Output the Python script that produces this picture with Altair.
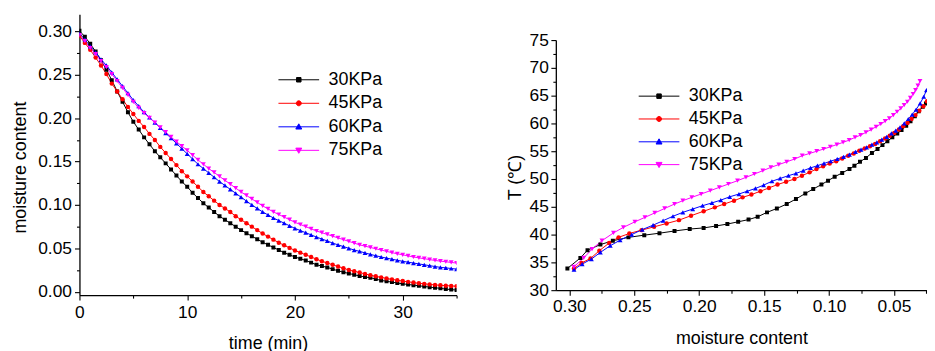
import altair as alt
import pandas as pd

series = ["30KPa", "45KPa", "60KPa", "75KPa"]
colors = ["#000000", "#FF0000", "#0000FF", "#FF00FF"]

# ---------- left panel: moisture content vs time ----------
time_min = [0, 0.5, 1, 1.5, 2, 2.5, 3, 3.5, 4, 4.5, 5, 5.5, 6, 6.5, 7, 7.5, 8, 8.5, 9, 9.5,
            10, 10.5, 11, 11.5, 12, 12.5, 13, 13.5, 14, 14.5, 15, 15.5, 16, 16.5, 17, 17.5,
            18, 18.5, 19, 19.5, 20, 20.5, 21, 21.5, 22, 22.5, 23, 23.5, 24, 24.5, 25, 25.5,
            26, 26.5, 27, 27.5, 28, 28.5, 29, 29.5, 30, 30.5, 31, 31.5, 32, 32.5, 33, 33.5,
            34, 34.5, 35]

mc_30 = [.301, .294, .286, .277, .267, .256, .244, .231, .219, .207, .196, .187, .178, .170,
         .162, .155, .148, .141, .134, .127, .121, .114, .108, .102, .097, .092, .087, .083,
         .079, .075, .071, .0675, .064, .0605, .057, .054, .051, .048, .045, .0425, .040,
         .038, .036, .0335, .031, .0295, .028, .026, .024, .0225, .021, .0195, .018, .017,
         .016, .0145, .013, .012, .011, .010, .009, .0083, .0075, .0068, .006, .0052, .0045,
         .0038, .003, .0024, .0018]
mc_45 = [.295, .287, .279, .270, .261, .251, .240, .231, .222, .213, .205, .197, .190, .182,
         .175, .167, .160, .153, .146, .139, .133, .127, .121, .115, .110, .105, .100, .096,
         .092, .087, .083, .079, .075, .071, .067, .0635, .060, .0565, .0535, .0505, .0475,
         .045, .0425, .040, .0375, .035, .033, .031, .029, .027, .025, .0235, .022, .0205,
         .019, .0177, .0165, .0153, .0142, .0132, .0122, .0113, .0105, .0097, .009, .0084,
         .0078, .0073, .0069, .0066, .0063]
mc_60 = [.298, .291, .283, .276, .268, .261, .253, .245, .237, .229, .221, .214, .207, .201,
         .195, .189, .183, .177, .171, .165, .159, .153, .147, .142, .137, .132, .127, .1225,
         .118, .1135, .109, .1045, .100, .096, .092, .0885, .085, .082, .079, .076, .073,
         .0705, .068, .0655, .063, .0607, .0585, .056, .054, .052, .050, .048, .0465, .0447,
         .043, .0415, .040, .0387, .0375, .0362, .035, .034, .033, .032, .031, .030, .029,
         .028, .0275, .0267, .026]
mc_75 = [.296, .289, .281, .274, .266, .259, .251, .243, .235, .227, .219, .212, .206, .2005,
         .195, .1895, .184, .1785, .173, .168, .163, .1575, .152, .147, .142, .1375, .133,
         .1285, .124, .1195, .115, .111, .107, .103, .099, .0955, .092, .089, .086, .083,
         .080, .0775, .075, .0725, .070, .068, .066, .064, .062, .060, .058, .056, .054,
         .0525, .051, .0495, .048, .0465, .045, .0437, .0425, .0412, .040, .039, .038, .037,
         .036, .0352, .0345, .0337, .033]

# ---------- right panel: temperature vs moisture content ----------
r_mc_30 = [.3015, .2915, .2860, .2761, .2665, .2545, .2423, .2306, .2190, .2073, .1966, .1870,
           .1783, .1700, .1620, .1550, .1478, .1402, .1326, .1255, .1183, .1122, .1059, .1008,
           .0957, .0899, .0843, .0805, .0762, .0716, .0670, .0627, .0589, .0551, .0513, .0475,
           .0442, .0406, .0373, .0340, .0310, .0279, .0254, .0230]
r_T_30 = [33.9, 35.8, 37.2, 38.2, 38.9, 39.5, 39.9, 40.25, 40.65, 41.0, 41.2, 41.55, 41.9, 42.3,
          42.7, 43.2, 44.0, 44.7, 45.5, 46.4, 47.4, 48.2, 49.0, 49.7, 50.4, 51.1, 51.8, 52.4,
          53.1, 53.8, 54.7, 55.4, 56.1, 56.8, 57.5, 58.2, 58.8, 59.6, 60.4, 61.3, 62.2, 63.0,
          63.6, 64.3]
r_mc_45 = [.2964, .2906, .2837, .2769, .2693, .2621, .2538, .2444, .2347, .2251, .2156, .2063,
           .1966, .1880, .1808, .1732, .1666, .1598, .1529, .1463, .1397, .1331, .1267, .1209,
           .1150, .1097, .1046, .0995, .0945, .0899, .0853, .0810, .0767, .0726, .0685, .0645,
           .0607, .0569, .0533, .0498, .0462, .0429, .0396, .0365, .0335, .0305, .0274, .0246,
           .0220]
r_T_45 = [33.9, 34.9, 35.7, 37.1, 38.5, 39.5, 40.2, 40.8, 41.4, 42.0, 42.6, 43.4, 44.2, 44.9,
          45.5, 46.1, 46.7, 47.2, 47.8, 48.4, 49.0, 49.5, 50.0, 50.6, 51.2, 51.8, 52.3, 52.8,
          53.2, 53.7, 54.2, 54.6, 55.1, 55.5, 55.9, 56.3, 56.8, 57.3, 57.8, 58.3, 58.9, 59.5,
          60.1, 60.8, 61.5, 62.3, 63.1, 64.0, 64.8]
r_mc_60 = [.2964, .2901, .2830, .2761, .2685, .2609, .2520, .2439, .2355, .2278, .2202, .2126,
           .2050, .1974, .1902, .1834, .1765, .1694, .1631, .1567, .1504, .1440, .1377, .1313,
           .1255, .1199, .1143, .1089, .1039, .0988, .0937, .0889, .0843, .0797, .0754, .0711,
           .0670, .0632, .0594, .0556, .0520, .0487, .0454, .0421, .0390, .0360, .0330, .0299,
           .0271, .0250]
r_T_60 = [33.7, 34.7, 35.6, 36.8, 38.0, 39.0, 40.0, 40.9, 41.7, 42.5, 43.3, 44.0, 44.6, 45.2,
          45.7, 46.2, 46.8, 47.3, 47.8, 48.3, 48.9, 49.6, 50.1, 50.6, 51.0, 51.5, 52.0, 52.4,
          52.8, 53.2, 53.6, 54.0, 54.4, 54.9, 55.3, 55.7, 56.2, 56.6, 57.1, 57.6, 58.2, 58.7,
          59.3, 60.0, 60.8, 61.6, 62.5, 63.6, 64.8, 66.0]
r_mc_75 = [.2965, .2889, .2825, .2749, .2660, .2584, .2495, .2418, .2342, .2266, .2190, .2126,
           .2057, .1985, .1915, .1845, .1775, .1705, .1640, .1575, .1510, .1448, .1387, .1326,
           .1265, .1207, .1150, .1095, .1042, .0990, .0940, .0892, .0845, .0800, .0757, .0716,
           .0676, .0638, .0602, .0568, .0536, .0505, .0476, .0448, .0422, .0397, .0374, .0353,
           .0334, .0316, .0300]
r_T_75 = [34.2, 35.8, 37.4, 38.9, 40.3, 41.3, 42.3, 43.1, 43.9, 44.7, 45.5, 46.1, 46.7, 47.3,
          47.9, 48.5, 49.1, 49.7, 50.3, 50.9, 51.5, 52.1, 52.6, 53.1, 53.6, 54.2, 54.6, 55.0,
          55.4, 55.8, 56.2, 56.6, 57.0, 57.5, 57.9, 58.4, 58.9, 59.4, 59.9, 60.4, 60.9, 61.5,
          62.1, 62.7, 63.3, 63.9, 64.6, 65.3, 66.0, 66.8, 67.6]

# ---------- tables ----------
rows_l = []
for s, vals in zip(series, [mc_30, mc_45, mc_60, mc_75]):
    for t, v in zip(time_min, vals):
        rows_l.append({"series": s, "t": t, "m": v})
df_l = pd.DataFrame(rows_l)

rows_r = []
for s, xs, ys in zip(series, [r_mc_30, r_mc_45, r_mc_60, r_mc_75], [r_T_30, r_T_45, r_T_60, r_T_75]):
    for a, b in zip(xs, ys):
        rows_r.append({"series": s, "mc": a, "T": b})
df_r = pd.DataFrame(rows_r)

FONT = "Liberation Sans"
marker_shapes = ["square", "circle", "triangle-up", "triangle-down"]
marker_sizes = [16, 20, 24, 24]
LINE = "M-4.1,0H4.1"
legend_paths = [
    LINE + "M-0.45,-0.45H0.45V0.45H-0.45Z",
    LINE + "M-0.5,0A0.5,0.5,0,1,0,0.5,0A0.5,0.5,0,1,0,-0.5,0Z",
    LINE + "M0,-0.6L0.6,0.45L-0.6,0.45Z",
    LINE + "M0,0.6L0.6,-0.45L-0.6,-0.45Z",
]

stroke_scale = alt.Scale(domain=series, range=colors)
fill_scale = alt.Scale(domain=series, range=colors)
shape_scale = alt.Scale(domain=series, range=legend_paths)


def axis(values, major_test, fmt, tsize_major=5, tsize_minor=3, **kw):
    return alt.Axis(
        values=values,
        labelExpr=f"({major_test}) ? format(datum.value, '{fmt}') : ''",
        tickSize={"condition": {"test": major_test, "value": tsize_major}, "value": tsize_minor},
        labelOverlap=False,
        labelFlush=False,
        grid=False,
        **kw,
    )


def panel(df, xfield, yfield, xenc_kw, yenc_kw, legend_xy, row_pad):
    x = alt.X(f"{xfield}:Q", **xenc_kw)
    y = alt.Y(f"{yfield}:Q", **yenc_kw)
    leg = alt.Legend(
        title=None, orient="none", legendX=legend_xy[0], legendY=legend_xy[1],
        labelFont=FONT, labelFontSize=18, labelColor="#000000", symbolSize=100,
        symbolStrokeWidth=1, symbolOpacity=1, labelOffset=21, rowPadding=row_pad,
        padding=0,
    )
    base = alt.Chart(df)
    lines = base.mark_line(strokeWidth=1, clip=True).encode(
        x=x, y=y, stroke=alt.Stroke("series:N", scale=stroke_scale, legend=leg)
    )
    layers = [lines]
    for s, sh, sz in zip(series, marker_shapes, marker_sizes):
        layers.append(
            base.transform_filter(alt.datum.series == s)
            .mark_point(shape=sh, filled=True, size=sz, opacity=1, clip=True)
            .encode(x=x, y=y, fill=alt.Fill("series:N", scale=fill_scale, legend=leg))
        )
    layers.append(
        base.mark_point(filled=True, opacity=0, clip=True).encode(
            x=x, y=y,
            fill=alt.Fill("series:N", scale=fill_scale, legend=leg),
            stroke=alt.Stroke("series:N", scale=stroke_scale, legend=leg),
            shape=alt.Shape("series:N", scale=shape_scale, legend=leg),
        )
    )
    return alt.layer(*layers)


left = panel(
    df_l, "t", "m",
    dict(
        scale=alt.Scale(domain=[0, 35], nice=False, zero=False),
        axis=axis([0, 5, 10, 15, 20, 25, 30, 35], "datum.value % 10 == 0", "d",
                  labelPadding=4, titleY=54, titleBaseline="alphabetic"),
        title="time (min)",
    ),
    dict(
        scale=alt.Scale(domain=[-0.004, 0.32], nice=False, zero=False),
        axis=axis([0, 0.025, 0.05, 0.075, 0.1, 0.125, 0.15, 0.175, 0.2, 0.225, 0.25, 0.275, 0.3],
                  "abs(datum.value * 20 - round(datum.value * 20)) < 0.001", ".2f",
                  labelPadding=3, titleX=-54, titleY=154, titleAngle=270,
                  titleBaseline="alphabetic", titleAlign="center"),
        title="moisture content",
    ),
    (212, 57), 5.7,
).properties(width=380, height=283)

right = panel(
    df_r, "mc", "T",
    dict(
        scale=alt.Scale(domain=[0.0246, 0.3104], nice=False, zero=False, reverse=True),
        axis=axis([0.025, 0.05, 0.075, 0.1, 0.125, 0.15, 0.175, 0.2, 0.225, 0.25, 0.275, 0.3],
                  "abs(datum.value * 20 - round(datum.value * 20)) < 0.001", ".2f",
                  labelPadding=3, titleY=54, titleBaseline="alphabetic"),
        title="moisture content",
    ),
    dict(
        scale=alt.Scale(domain=[30, 75], nice=False, zero=False),
        axis=axis([30, 32.5, 35, 37.5, 40, 42.5, 45, 47.5, 50, 52.5, 55, 57.5, 60, 62.5, 65,
                   67.5, 70, 72.5, 75],
                  "datum.value % 5 == 0", "d",
                  labelPadding=2.5, titleX=-36, titleY=138, titleAngle=270,
                  titleBaseline="alphabetic", titleAlign="center"),
        title="T (℃)",
    ),
    (95, 73.5), 5,
).properties(width=374, height=252)

spacer = (
    alt.Chart(pd.DataFrame({"a": [0]}))
    .mark_point(opacity=0, size=1)
    .encode(x=alt.value(0.5), y=alt.value(8))
    .properties(width=1, height=17)
)

chart = (
    alt.hconcat(left, alt.vconcat(spacer, right, spacing=0), spacing=49)
    .resolve_scale(fill="independent", stroke="independent", shape="independent")
    .properties(padding={"left": 4, "top": 5, "right": 0, "bottom": 0})
    .configure_view(stroke=None)
    .configure_axis(
        labelFont=FONT, titleFont=FONT, labelFontSize=17.5, titleFontSize=18,
        labelColor="#000000", titleColor="#000000", titleFontWeight="normal",
        domainColor="#000000", tickColor="#000000", domainWidth=1.3, tickWidth=1.1,
    )
)

chart.save("out.html", embed_options={"renderer": "svg", "actions": False})
